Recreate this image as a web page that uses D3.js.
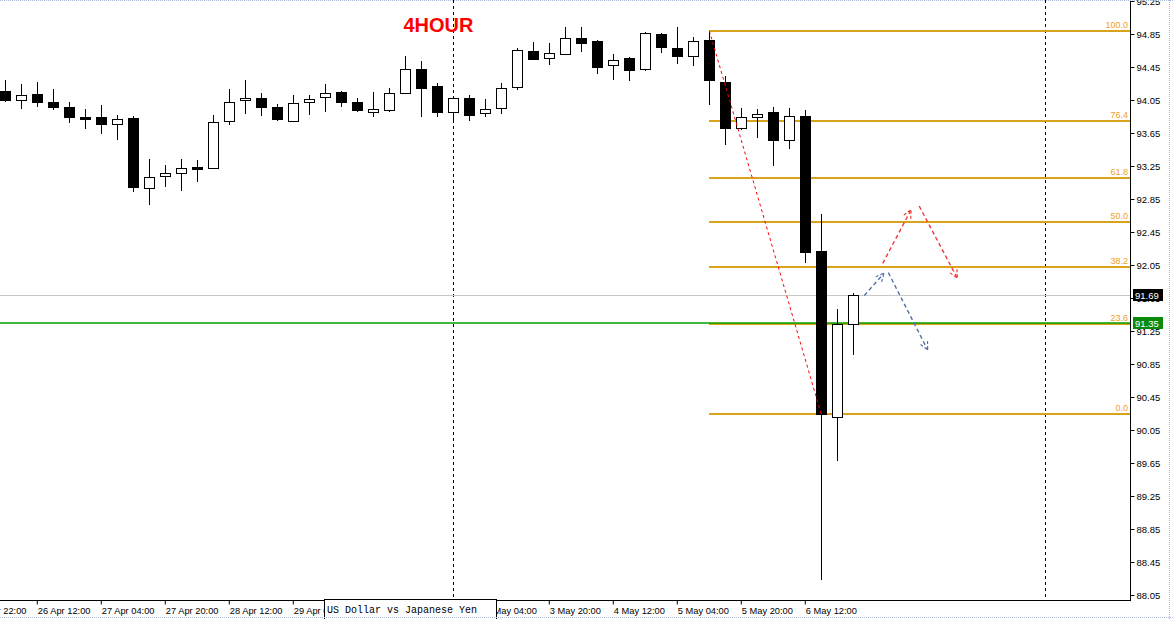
<!DOCTYPE html>
<html><head><meta charset="utf-8">
<script src="https://cdn.jsdelivr.net/npm/d3@7"></script>
<style>body{margin:0;background:#fff;overflow:hidden}svg{display:block}</style>
</head><body>
<svg id="c" width="1173" height="619"></svg>
<script>
// ---- data (USD/JPY, H4) ----
const opens  = [94.16,94.05,94.12,94.03,93.97,93.85,93.84,93.76,93.83,92.98,93.13,93.17,93.24,93.23,93.80,94.05,94.08,93.97,93.80,94.02,94.09,94.15,94.02,93.91,93.93,94.14,94.42,94.22,93.91,94.08,93.89,93.95,94.21,94.64,94.56,94.61,94.80,94.77,94.47,94.56,94.43,94.85,94.68,94.58,94.78,94.27,93.71,93.85,93.90,93.57,93.86,92.22,90.21,91.33];
const highs  = [94.29,94.24,94.27,94.18,94.03,93.94,93.99,93.87,93.86,93.34,93.26,93.33,93.32,93.87,94.18,94.29,94.14,94.00,94.11,94.11,94.24,94.16,94.08,94.15,94.19,94.58,94.52,94.26,94.09,94.11,94.06,94.25,94.68,94.75,94.74,94.94,94.93,94.78,94.61,94.57,94.87,94.86,94.94,94.81,94.89,94.34,93.95,93.94,93.96,93.95,93.93,92.67,91.52,91.71];
const lows   = [94.02,93.94,93.96,93.93,93.77,93.70,93.64,93.57,92.94,92.78,92.99,92.95,93.06,93.21,93.75,93.88,93.86,93.80,93.80,93.87,93.91,93.96,93.90,93.85,93.91,94.13,93.85,93.84,93.78,93.80,93.85,93.88,94.17,94.53,94.47,94.60,94.63,94.36,94.29,94.28,94.40,94.62,94.49,94.46,93.99,93.50,93.69,93.59,93.25,93.46,92.08,88.23,89.67,90.96];
const closes = [94.05,94.11,94.02,93.97,93.84,93.82,93.76,93.82,92.99,93.12,93.16,93.23,93.21,93.78,94.03,94.08,93.96,93.82,94.01,94.06,94.13,94.03,93.93,93.94,94.13,94.43,94.20,93.90,94.08,93.87,93.94,94.20,94.65,94.55,94.62,94.80,94.74,94.45,94.54,94.41,94.86,94.69,94.58,94.76,94.29,93.71,93.84,93.88,93.56,93.86,92.21,90.24,91.34,91.69];

const yTickLabels = ["95.25","94.85","94.45","94.05","93.65","93.25","92.85","92.45","92.05","91.65","91.25","90.85","90.45","90.05","89.65","89.25","88.85","88.45","88.05"];
const xTickIndex  = [-2,2,6,10,14,18,22,26,30,34,38,42,46,50];
const xTickLabels = ["25 Apr 22:00","26 Apr 12:00","27 Apr 04:00","27 Apr 20:00","28 Apr 12:00","29 Apr 04:00","29 Apr 20:00","30 Apr 12:00","3 May 04:00","3 May 20:00","4 May 12:00","5 May 04:00","5 May 20:00","6 May 12:00"];
const separatorIndex = [28,65];

const fibLevelLabels = ["0.0","23.6","38.2","50.0","61.8","76.4","100.0"];
const fibLevelPrices = [90.24,91.34,92.02,92.57,93.11,93.79,94.89];
const fibStartIndex = 44;
const fibAnchorIndex = [44,51];
const fibAnchorPrice = [94.89,90.24];

const currentPrice = 91.69;
const hLinePrice = 91.35;

const redArrowIdx   = [[54.84,56.61],[57.12,59.50]];
const redArrowPrice = [[92.07,92.72],[92.765,91.89]];
const blueArrowIdx   = [[53.69,54.92],[55.19,57.65]];
const blueArrowPrice = [[91.68,91.95],[91.957,91.02]];

const titleText = "4HOUR";
const infoText = "US Dollar vs Japanese Yen";

// ---- layout ----
const W = 1173, H = 619, plotR = 1130, plotB = 600;
const svg = d3.select("#c");
const x = d3.scaleLinear().domain([0,70]).range([5.3,1125.3]);
const y = d3.scaleLinear().domain([88.05,94.85]).range([595,34]);
const font = "'Liberation Sans', Arial, sans-serif";

svg.append("rect").attr("width",W).attr("height",H).attr("fill","#fff");
svg.append("defs").append("clipPath").attr("id","pc")
  .append("rect").attr("x",0).attr("y",0).attr("width",plotR).attr("height",plotB);
const plot = svg.append("g").attr("clip-path","url(#pc)");

// period separators
plot.selectAll("line.sep").data(separatorIndex).join("line")
  .attr("x1",d=>Math.round(x(d))+0.5).attr("x2",d=>Math.round(x(d))+0.5)
  .attr("y1",0).attr("y2",plotB).attr("stroke","#000").attr("stroke-dasharray","3,3");

// current price (bid) line
plot.append("line").attr("x1",0).attr("x2",plotR)
  .attr("y1",Math.round(y(currentPrice))+0.5).attr("y2",Math.round(y(currentPrice))+0.5)
  .attr("stroke","#c8c8c8").attr("shape-rendering","crispEdges");

// fib levels
const fibX0 = Math.round(x(fibStartIndex));
plot.selectAll("line.fib").data(fibLevelPrices).join("line")
  .attr("x1",fibX0).attr("x2",plotR)
  .attr("y1",d=>Math.round(y(d))).attr("y2",d=>Math.round(y(d)))
  .attr("stroke","#d9a21b").attr("stroke-width",2).attr("shape-rendering","crispEdges");
plot.selectAll("text.fib").data(fibLevelPrices).join("text")
  .attr("x",plotR-2).attr("y",d=>Math.round(y(d))-3)
  .attr("text-anchor","end").attr("font-family",font).attr("font-size",9)
  .attr("fill","#f0a020").text((d,i)=>fibLevelLabels[i]);

// horizontal line object
plot.append("line").attr("x1",0).attr("x2",plotR)
  .attr("y1",Math.round(y(hLinePrice))).attr("y2",Math.round(y(hLinePrice)))
  .attr("stroke","#00a000").attr("stroke-width",1.3);

// candles
const idx = d3.range(opens.length);
const cg = plot.append("g");
cg.selectAll("line.wick").data(idx).join("line")
  .attr("x1",i=>Math.round(x(i))+0.5).attr("x2",i=>Math.round(x(i))+0.5)
  .attr("y1",i=>Math.round(y(highs[i]))).attr("y2",i=>Math.round(y(lows[i])))
  .attr("stroke","#000").attr("stroke-width",1);
cg.selectAll("rect.body").data(idx).join("rect")
  .attr("x",i=>Math.round(x(i))-5+0.5)
  .attr("y",i=>Math.round(y(Math.max(opens[i],closes[i])))+0.5)
  .attr("width",10)
  .attr("height",i=>Math.max(1,Math.round(y(Math.min(opens[i],closes[i])))-Math.round(y(Math.max(opens[i],closes[i])))))
  .attr("fill",i=>closes[i]>=opens[i]?"#fff":"#000")
  .attr("stroke","#000").attr("stroke-width",1);

// fib anchor trend line
plot.append("line")
  .attr("x1",x(fibAnchorIndex[0])).attr("y1",y(fibAnchorPrice[0]))
  .attr("x2",x(fibAnchorIndex[1])).attr("y2",y(fibAnchorPrice[1]))
  .attr("stroke","#ff0000").attr("stroke-dasharray","3,3");

// arrows
function drawArrows(idxs, prices, color){
  idxs.forEach((ii,k)=>{
    const x1=x(ii[0]), y1=y(prices[k][0]), x2=x(ii[1]), y2=y(prices[k][1]);
    plot.append("line").attr("x1",x1).attr("y1",y1).attr("x2",x2).attr("y2",y2)
      .attr("stroke",color).attr("stroke-width",1.4).attr("stroke-dasharray","4,3");
    const a=Math.atan2(y2-y1,x2-x1), L=9, s=0.45;
    const p=[[x2-L*Math.cos(a-s),y2-L*Math.sin(a-s)],[x2,y2],[x2-L*Math.cos(a+s),y2-L*Math.sin(a+s)]];
    plot.append("path").attr("d",d3.line()(p)).attr("fill","none")
      .attr("stroke",color).attr("stroke-width",1.2).attr("stroke-dasharray","3,2");
  });
}
drawArrows(redArrowIdx, redArrowPrice, "#f03838");
drawArrows(blueArrowIdx, blueArrowPrice, "#5272a8");

// title
plot.append("text").attr("x",438.5).attr("y",32).attr("text-anchor","middle")
  .attr("font-family",font).attr("font-weight","bold").attr("font-size",20)
  .attr("fill","#ff0000").text(titleText);

// axes
const yAxis = d3.axisRight(y).tickValues(yTickLabels.map(Number))
  .tickFormat((d,i)=>yTickLabels[i]).tickSize(4).tickPadding(2);
const gy = svg.append("g").attr("transform",`translate(${plotR+0.5},0)`).call(yAxis);
gy.select(".domain").remove();
gy.selectAll("text").attr("font-family",font).attr("font-size",9.5).attr("fill","#000");
gy.selectAll("line").attr("stroke","#000");

const xAxis = d3.axisBottom(x).tickValues(xTickIndex)
  .tickFormat((d,i)=>xTickLabels[i]).tickSize(4).tickPadding(3);
const gx = svg.append("g").attr("transform",`translate(0,${plotB+0.5})`).call(xAxis);
gx.select(".domain").remove();
gx.selectAll(".tick line").attr("transform","translate(-0.5,0)").attr("stroke","#000");
gx.selectAll("text").attr("text-anchor","start").attr("x",0)
  .attr("font-family",font).attr("font-size",9.3).attr("fill","#000");

// frame lines
svg.append("line").attr("x1",plotR+0.5).attr("x2",plotR+0.5).attr("y1",0).attr("y2",plotB+1).attr("stroke","#000");
svg.append("line").attr("x1",0).attr("x2",plotR+1).attr("y1",plotB+0.5).attr("y2",plotB+0.5).attr("stroke","#000");

// price labels on axis
function priceBox(p, fill){
  const yy = Math.round(y(p));
  svg.append("rect").attr("x",plotR+3).attr("y",yy-6).attr("width",30).attr("height",12).attr("fill",fill);
  svg.append("text").attr("x",plotR+5).attr("y",yy+4).attr("font-family",font)
    .attr("font-size",9.5).attr("fill","#fff").text(p.toFixed(2));
}
priceBox(currentPrice,"#000");
priceBox(hLinePrice,"#0a8a0a");

// info tooltip box
svg.append("rect").attr("x",324.5).attr("y",599.5).attr("width",172).attr("height",30)
  .attr("fill","#fff").attr("stroke","#000");
svg.append("text").attr("x",327).attr("y",612.5).attr("font-family","'Liberation Mono', 'Courier New', monospace")
  .attr("font-size",11.5).attr("textLength",150).attr("lengthAdjust","spacingAndGlyphs")
  .attr("fill","#000").text(infoText);

// window frame
svg.append("line").attr("x1",0).attr("x2",W).attr("y1",0.5).attr("y2",0.5).attr("stroke","#a9bcd8").attr("stroke-dasharray","1,1");
svg.append("line").attr("x1",1169.5).attr("x2",1169.5).attr("y1",0).attr("y2",H).attr("stroke","#9fb3d3").attr("stroke-dasharray","1,1");
svg.append("line").attr("x1",0).attr("x2",W).attr("y1",617.5).attr("y2",617.5).attr("stroke","#a9bcd8").attr("stroke-dasharray","1,1");
</script>
</body></html>
